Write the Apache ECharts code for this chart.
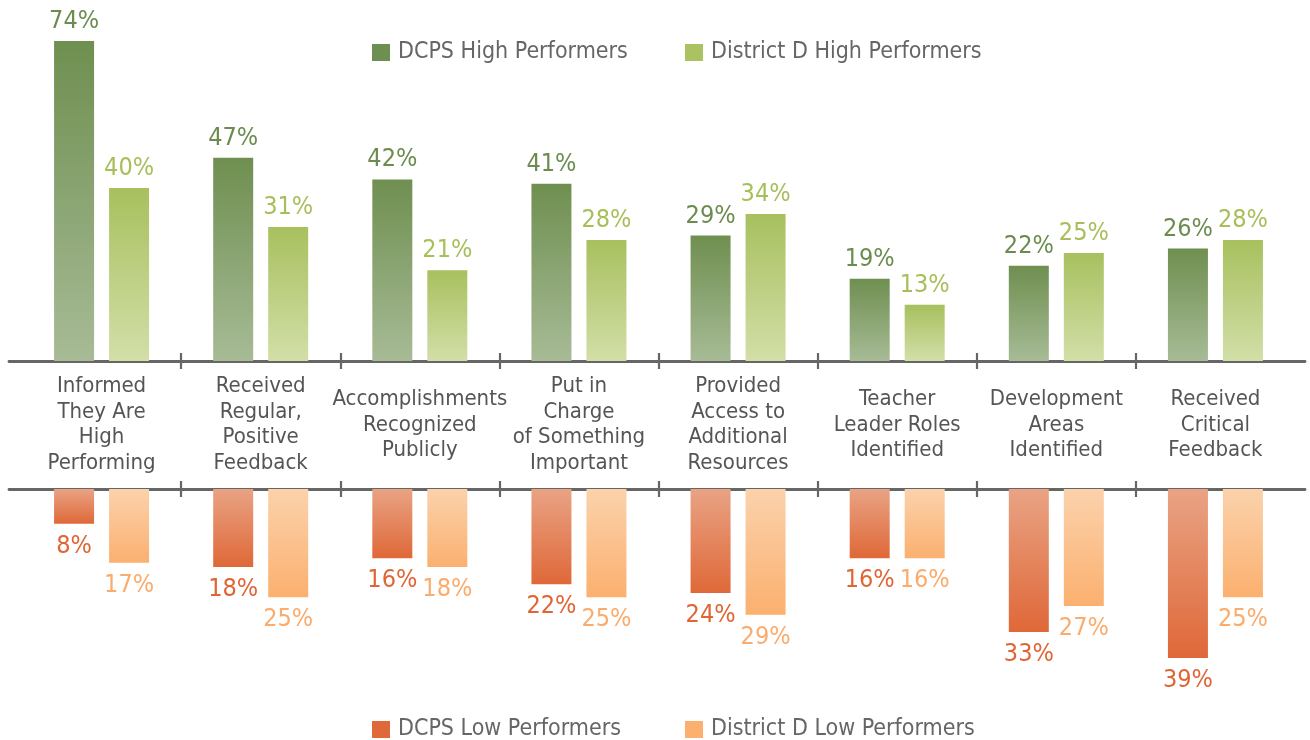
<!DOCTYPE html>
<html><head><meta charset="utf-8">
<script src="https://cdn.jsdelivr.net/npm/echarts@6/dist/echarts.min.js"></script>
<style>html,body{margin:0;padding:0;background:#fff}#c{width:1310px;height:740px}</style>
</head><body><div id="c"></div>
<script>
const categories = [
  "Informed\nThey Are\nHigh\nPerforming",
  "Received\nRegular,\nPositive\nFeedback",
  "Accomplishments\nRecognized\nPublicly",
  "Put in\nCharge\nof Something\nImportant",
  "Provided\nAccess to\nAdditional\nResources",
  "Teacher\nLeader Roles\nIdentified",
  "Development\nAreas\nIdentified",
  "Received\nCritical\nFeedback"
];
const dcpsHigh = [74, 47, 42, 41, 29, 19, 22, 26];
const districtHigh = [40, 31, 21, 28, 34, 13, 25, 28];
const dcpsLow = [8, 18, 16, 22, 24, 16, 33, 39];
const districtLow = [17, 25, 18, 25, 29, 16, 27, 25];
const seriesNames = ['DCPS High Performers', 'District D High Performers', 'DCPS Low Performers', 'District D Low Performers'];

const FONT = "DejaVu Sans Condensed";
const grad = (a, b) => new echarts.graphic.LinearGradient(0, 0, 0, 1, [{offset: 0, color: a}, {offset: 1, color: b}]);

// layout
const GL = 22, GR = 15;                 // bar grids
const TOP_Y = 41, TOP_H = 320;          // high-performer grid
const BOT_Y = 489, BOT_H = 169;         // low-performer grid
const catW = (1310 - GL - GR) / categories.length;
const inner = categories.length - 2;    // boundaries between categories

const chart = echarts.init(document.getElementById('c'));
const axisLineStyle = {color: '#666', width: 2.8};
const tickStyle = {color: '#666', width: 2.2};

const legendItem = (name, color, left, top) => ({
  data: [{name, itemStyle: {color}}], left, top, padding: 0, itemWidth: 18, itemHeight: 17, icon: 'rect',
  textStyle: {fontFamily: FONT, fontSize: 23, lineHeight: 24, color: '#666', padding: [0, 0, 0, 3]}
});

const hiddenY = (gridIndex, inverse) => ({type: 'value', gridIndex, min: 0, max: 1, inverse: !!inverse, show: false});
const lineAxis = (gridIndex, position) => ({type: 'value', gridIndex, position, min: 0, max: 1,
  axisLine: {show: true, onZero: false, lineStyle: axisLineStyle}, axisTick: {show: false}, axisLabel: {show: false}, splitLine: {show: false}});
const tickAxis = (gridIndex, position, inside) => ({type: 'value', gridIndex, position, min: 0, max: inner, interval: 1,
  axisLine: {show: false, onZero: false}, axisTick: {show: true, inside, length: 8, lineStyle: tickStyle},
  axisLabel: {show: false}, splitLine: {show: false}});

chart.setOption({
  animation: false,
  textStyle: {fontFamily: FONT},
  legend: [
    legendItem(seriesNames[0], '#6e8f52', 372, 40.5),
    legendItem(seriesNames[1], '#abc262', 685, 40.5),
    legendItem(seriesNames[2], '#e0693a', 372, 717.5),
    legendItem(seriesNames[3], '#fbb070', 685, 717.5)
  ],
  grid: [
    {left: GL, right: GR, top: TOP_Y, height: TOP_H},
    {left: GL, right: GR, top: BOT_Y, height: BOT_H},
    {left: 9, right: 5, top: TOP_Y, height: TOP_H},
    {left: 9, right: 5, top: BOT_Y, height: BOT_H},
    {left: GL + catW, right: GR + catW, top: TOP_Y, height: TOP_H},
    {left: GL + catW, right: GR + catW, top: BOT_Y, height: BOT_H}
  ],
  xAxis: [
    {type: 'category', data: categories, gridIndex: 0, position: 'bottom',
      axisLine: {show: false, onZero: false}, axisTick: {show: false},
      axisLabel: {interval: 0, margin: 64, verticalAlign: 'middle', fontSize: 22, lineHeight: 25.5, color: '#555', fontFamily: FONT}},
    {type: 'category', data: categories, gridIndex: 1, position: 'top',
      axisLine: {show: false, onZero: false}, axisTick: {show: false}, axisLabel: {show: false}},
    lineAxis(2, 'bottom'),
    lineAxis(3, 'top'),
    tickAxis(4, 'bottom', false),
    tickAxis(4, 'bottom', true),
    tickAxis(5, 'top', false),
    tickAxis(5, 'top', true)
  ],
  yAxis: [
    {type: 'value', gridIndex: 0, min: 0, max: 74, show: false, splitLine: {show: false}},
    {type: 'value', gridIndex: 1, min: 0, max: 39, inverse: true, show: false, splitLine: {show: false}},
    hiddenY(2), hiddenY(3), hiddenY(4), hiddenY(5)
  ],
  series: [
    {name: seriesNames[0], type: 'bar', xAxisIndex: 0, yAxisIndex: 0, data: dcpsHigh,
      barWidth: 40, barGap: '37.5%',
      itemStyle: {color: grad('#6f8f50', '#a7bb96')},
      label: {show: true, position: 'top', distance: 7, formatter: '{c}%', fontSize: 25, color: '#6b8c4e', fontFamily: FONT}},
    {name: seriesNames[1], type: 'bar', xAxisIndex: 0, yAxisIndex: 0, data: districtHigh,
      barWidth: 40, barGap: '37.5%',
      itemStyle: {color: grad('#a8c05e', '#d2dfa8')},
      label: {show: true, position: 'top', distance: 7, formatter: '{c}%', fontSize: 25, color: '#a6bf5a', fontFamily: FONT}},
    {name: seriesNames[2], type: 'bar', xAxisIndex: 1, yAxisIndex: 1, data: dcpsLow,
      barWidth: 40, barGap: '37.5%',
      itemStyle: {color: grad('#e9a384', '#df6838')},
      label: {show: true, position: 'bottom', distance: 10, formatter: '{c}%', fontSize: 25, color: '#e06535', fontFamily: FONT}},
    {name: seriesNames[3], type: 'bar', xAxisIndex: 1, yAxisIndex: 1, data: districtLow,
      barWidth: 40, barGap: '37.5%',
      itemStyle: {color: grad('#fbd2ac', '#fbb06f')},
      label: {show: true, position: 'bottom', distance: 10, formatter: '{c}%', fontSize: 25, color: '#fbab6b', fontFamily: FONT}}
  ]
});
</script></body></html>
